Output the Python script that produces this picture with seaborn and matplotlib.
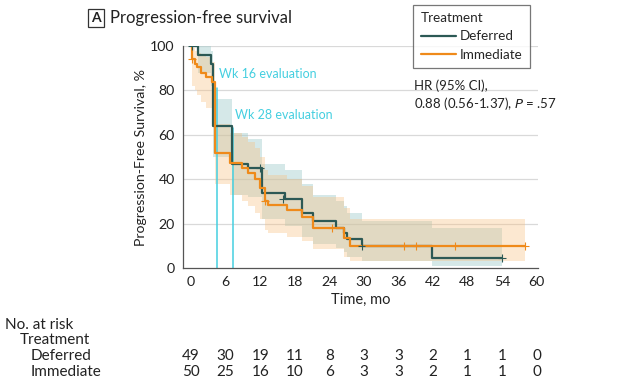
import numpy as np
import pandas as pd
import matplotlib
matplotlib.use("Agg")
import matplotlib.pyplot as plt
import matplotlib.transforms as mtransforms
from matplotlib.lines import Line2D
import seaborn as sns

sns.set_theme(style="white")
plt.rcParams['font.family'] = ['Lato', 'DejaVu Sans']

# ---- data ----
def_time = [0, 1.2, 3.5, 3.8, 7.1, 9.8, 12.3, 16.3, 19.2, 21.1, 25.2, 26.6, 27.1, 29.6, 41.8, 54.0]
def_surv = [100, 96, 92, 64, 47, 45, 34, 31, 25, 21, 18, 16, 13, 9.8, 4.5, 4.5]
def_low = [100, 88, 82, 50, 33, 32, 22, 19, 14, 11, 9, 7, 5, 3, 0.7, 0.7]
def_up = [100, 100, 98, 76, 61, 58, 47, 44, 38, 33, 30, 28, 25, 21, 18, 18]

imm_time = [0, 0.2, 0.6, 1.0, 1.7, 2.6, 3.6, 4.1, 6.8, 8.8, 9.9, 11.1, 12.0, 12.8, 13.3, 16.6, 19.2, 21.1, 26.6, 27.6, 58.0]
imm_surv = [100, 94, 92, 90.5, 88, 86, 84, 52, 47.5, 45, 43, 40, 36, 30, 28.5, 26, 23, 18, 13.5, 10, 10]
imm_low = [100, 82, 80, 78, 75, 72, 68, 38, 33, 30, 28, 25, 22, 17, 16, 14, 12, 8.5, 5, 3, 3]
imm_up = [100, 99, 98, 97, 96, 95, 93, 65, 61, 59, 57, 54, 50, 44, 42, 40, 37, 32, 27, 22, 22]

def_cens_t = [0.1, 11.9, 15.9, 29.6, 54.0]
def_cens_s = [100, 45, 31, 9.8, 4.5]
imm_cens_t = [0.2, 12.8, 24.4, 37.0, 39.0, 45.8, 58.0]
imm_cens_s = [94, 30, 18, 10, 10, 10, 10]

eval_times = [4.5, 7.3]
eval_labels = ["Wk 16 evaluation", "Wk 28 evaluation"]
eval_tops = [81, 63]

groups = ["Deferred", "Immediate"]
risk_times = [0, 6, 12, 18, 24, 30, 36, 42, 48, 54, 60]
def_risk = [49, 30, 19, 11, 8, 3, 3, 2, 1, 1, 0]
imm_risk = [50, 25, 16, 10, 6, 3, 3, 2, 1, 1, 0]

# ---- styling ----
c_def = "#2c5955"
c_imm = "#ef8a1a"
band_def = "#9cc9ca"
band_imm = "#f9be7c"
cyan = "#45cfe0"
txt = "#222222"

df = pd.concat([
    pd.DataFrame({"Time": def_time, "Surv": def_surv, "Treatment": groups[0]}),
    pd.DataFrame({"Time": imm_time, "Surv": imm_surv, "Treatment": groups[1]}),
])
cens = pd.concat([
    pd.DataFrame({"Time": def_cens_t, "Surv": def_cens_s, "Treatment": groups[0]}),
    pd.DataFrame({"Time": imm_cens_t, "Surv": imm_cens_s, "Treatment": groups[1]}),
])
palette = {groups[0]: c_def, groups[1]: c_imm}

fig = plt.figure(figsize=(6.4, 3.84), dpi=100)
ax = fig.add_axes([0.286, 0.302, 0.555, 0.578])

ax.fill_between(def_time, def_low, def_up, step="post", color=band_def, alpha=0.42, lw=0, zorder=1)
ax.fill_between(imm_time, imm_low, imm_up, step="post", color=band_imm, alpha=0.35, lw=0, zorder=1)

for t, top in zip(eval_times, eval_tops):
    ax.plot([t, t], [0, top], color=cyan, lw=1.1, zorder=2)

sns.lineplot(data=df, x="Time", y="Surv", hue="Treatment", palette=palette,
             drawstyle="steps-post", lw=1.6, ax=ax, legend=False, zorder=3,
             estimator=None, sort=False)
sns.scatterplot(data=cens, x="Time", y="Surv", hue="Treatment", palette=palette,
                marker="+", s=32, linewidth=0.8, ax=ax, legend=False, zorder=4)

ax.text(eval_times[0] + 0.3, 87.5, eval_labels[0], color=cyan, fontsize=9, va="center", ha="left")
ax.text(eval_times[1] + 0.3, 69, eval_labels[1], color=cyan, fontsize=9, va="center", ha="left")

ax.set_xlim(-1.4, 60.3)
ax.set_ylim(0, 100)
ax.set_xticks(risk_times)
ax.set_yticks([0, 20, 40, 60, 80, 100])
for y in [20, 40, 60, 80, 100]:
    ax.axhline(y, color="#d9d9d9", lw=0.9, zorder=0)
for s in ["top", "right"]:
    ax.spines[s].set_visible(False)
for s in ["left", "bottom"]:
    ax.spines[s].set_color("#555555")
    ax.spines[s].set_linewidth(0.9)
ax.tick_params(axis="both", direction="out", length=4, width=0.9, color="#555555",
               labelsize=10.2, labelcolor=txt, pad=2)
ax.set_xlabel("Time, mo", fontsize=10.5, color=txt, labelpad=3)
ax.set_ylabel("Progression-Free Survival, %", fontsize=10.2, color=txt, labelpad=2)

# title
fig.text(0.150, 0.953, "A", fontsize=10, fontweight="bold", color=txt, ha="center", va="center",
         bbox=dict(boxstyle="square,pad=0.2", fc="white", ec="#333333", lw=0.9))
fig.text(0.172, 0.953, "Progression-free survival", fontsize=12, color=txt, ha="left", va="center")

# legend
handles = [Line2D([0], [0], color=c_def, lw=1.6), Line2D([0], [0], color=c_imm, lw=1.6)]
leg = fig.legend(handles, groups, title="Treatment", loc="upper left",
                 bbox_to_anchor=(0.646, 0.987), frameon=True, fancybox=False,
                 edgecolor="#555555", fontsize=9.7, title_fontsize=9.7,
                 handlelength=2.6, handletextpad=0.3, labelspacing=0.45,
                 borderpad=0.55, borderaxespad=0)
leg._legend_box.align = "left"
leg.get_frame().set_linewidth(0.9)

# HR annotation
fig.text(0.647, 0.778, "HR (95% CI),", fontsize=9.5, color=txt, ha="left", va="center")
fig.text(0.647, 0.731, "0.88 (0.56-1.37), $\\it{P}$ = .57", fontsize=9.5, color=txt, ha="left", va="center")

# number at risk table
tfs = 11
trans = mtransforms.blended_transform_factory(ax.transData, fig.transFigure)
fig.text(0.008, 0.153, "No. at risk", fontsize=tfs, color=txt, ha="left", va="center")
fig.text(0.031, 0.114, "Treatment", fontsize=tfs, color=txt, ha="left", va="center")
fig.text(0.048, 0.073, groups[0], fontsize=tfs, color=txt, ha="left", va="center")
fig.text(0.048, 0.031, groups[1], fontsize=tfs, color=txt, ha="left", va="center")
for t, a, b in zip(risk_times, def_risk, imm_risk):
    ax.text(t, 0.073, str(a), transform=trans, fontsize=tfs, color=txt, ha="center", va="center")
    ax.text(t, 0.031, str(b), transform=trans, fontsize=tfs, color=txt, ha="center", va="center")

fig.savefig("out.png", dpi=100, facecolor="white")
